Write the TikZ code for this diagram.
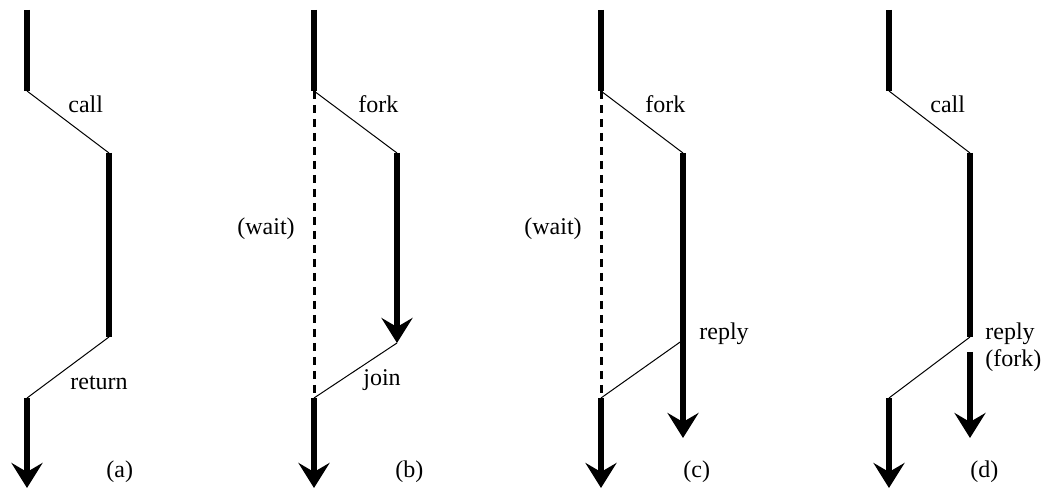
\documentclass[tikz,border=0pt]{standalone}
\usepackage{fontspec}
\setmainfont{Liberation Serif}
\newfontfamily\labelfont{Liberation Serif}
\usetikzlibrary{arrows.meta}
\begin{document}
\begin{tikzpicture}[x=0.5pt,y=-0.5pt,
  thread/.style={line width=3.4pt},
  flow/.style={thread,-{Stealth[length=12.5pt,width=15.5pt,inset=4.5pt]}},
  msg/.style={line width=0.5pt},
  waiting/.style={line width=1.5pt,dash pattern=on 4pt off 3pt},
  lbl/.style={anchor=base west,inner sep=0pt,font=\labelfont\fontsize{12pt}{14pt}\selectfont}]
\useasboundingbox (0,0) rectangle (1045,491);

% ---------- (a) call / return ----------
\coordinate (a0) at (27,10);   \coordinate (a1) at (27,91);
\coordinate (a2) at (109,153); \coordinate (a3) at (109,337);
\coordinate (a4) at (27,398);  \coordinate (a5) at (27,488);
\draw[thread] (a0) -- (a1);
\draw[msg] (a1) -- (a2);
\draw[thread] (a2) -- (a3);
\draw[msg] (a3) -- (a4);
\draw[flow] (a4) -- (a5);
\node[lbl] (acall) at (68,113) {call};
\node[lbl] (aret) at (70,390) {return};
\node[lbl] (acap) at (106,478) {(a)};

% ---------- (b) fork / join ----------
\coordinate (b0) at (314,10);  \coordinate (b1) at (314,91);
\coordinate (b2) at (397,153); \coordinate (b3) at (397,343);
\coordinate (b4) at (314,398); \coordinate (b5) at (314,488);
\draw[thread] (b0) -- (b1);
\draw[msg] (b1) -- (b2);
\draw[waiting] (b1) -- (b4);
\draw[flow] (b2) -- (b3);
\draw[msg] (b3) -- (b4);
\draw[flow] (b4) -- (b5);
\node[lbl] (bfork) at (358,113) {fork};
\node[lbl] (bwait) at (237,235) {(wait)};
\node[lbl] (bjoin) at (363,386) {join};
\node[lbl] (bcap) at (395,478) {(b)};

% ---------- (c) fork / reply ----------
\coordinate (c0) at (601,10);  \coordinate (c1) at (601,91);
\coordinate (c2) at (683,153); \coordinate (c3) at (683,340);
\coordinate (c4) at (683,438);
\coordinate (c5) at (601,398); \coordinate (c6) at (601,488);
\draw[thread] (c0) -- (c1);
\draw[msg] (c1) -- (c2);
\draw[waiting] (c1) -- (c5);
\draw[flow] (c2) -- (c4);
\draw[msg] (c3) -- (c5);
\draw[flow] (c5) -- (c6);
\node[lbl] (cfork) at (645,113) {fork};
\node[lbl] (cwait) at (524,235) {(wait)};
\node[lbl] (crep) at (699,340) {reply};
\node[lbl] (ccap) at (683,478) {(c)};

% ---------- (d) call / reply (fork) ----------
\coordinate (d0) at (889,10);  \coordinate (d1) at (889,91);
\coordinate (d2) at (970,153); \coordinate (d3) at (970,337);
\coordinate (d4) at (970,352); \coordinate (d5) at (970,438);
\coordinate (d6) at (889,398); \coordinate (d7) at (889,488);
\draw[thread] (d0) -- (d1);
\draw[msg] (d1) -- (d2);
\draw[thread] (d2) -- (d3);
\draw[msg] (d3) -- (d6);
\draw[flow] (d4) -- (d5);
\draw[flow] (d6) -- (d7);
\node[lbl] (dcall) at (930,113) {call};
\node[lbl] (drep) at (985,340) {reply};
\node[lbl] (dfork) at (985,367) {(fork)};
\node[lbl] (dcap) at (970,478) {(d)};
\end{tikzpicture}
\end{document}
